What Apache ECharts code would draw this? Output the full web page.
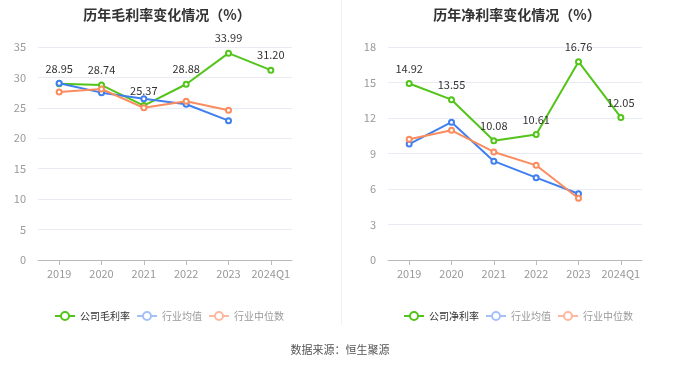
<!DOCTYPE html>
<html><head><meta charset="utf-8">
<script src="https://cdn.jsdelivr.net/npm/echarts@6/dist/echarts.min.js"></script>
<style>html,body{margin:0;padding:0;background:#fff}#c{width:680px;height:367px}</style>
</head><body><div id="c"></div>
<script>
const categories = ['2019','2020','2021','2022','2023','2024Q1'];
const grossCompany = [28.95, 28.74, 25.37, 28.88, 33.99, 31.20];
const grossAvg = [29.05, 27.5, 26.5, 25.6, 22.9, null];
const grossMedian = [27.6, 28.1, 25.0, 26.1, 24.6, null];
const netCompany = [14.92, 13.55, 10.08, 10.61, 16.76, 12.05];
const netAvg = [9.8, 11.65, 8.35, 6.96, 5.6, null];
const netMedian = [10.2, 10.96, 9.13, 8.0, 5.22, null];
const titles = ['历年毛利率变化情况（%）', '历年净利率变化情况（%）'];
const legendLeft = ['公司毛利率', '行业均值', '行业中位数'];
const legendRight = ['公司净利率', '行业均值', '行业中位数'];

const FONT = '"Noto Sans CJK SC", "Microsoft YaHei", sans-serif';
const GREEN = '#52c41a', BLUE = '#3f7ff0', ORANGE = '#fa8c5e';
const chart = echarts.init(document.getElementById('c'));

function mkSeries(name, data, color, xi, labeled, z) {
  return {
    type: 'line', name, data, xAxisIndex: xi, yAxisIndex: xi, z,
    symbol: 'emptyCircle', symbolSize: 5, connectNulls: false,
    lineStyle: { width: 2, color }, itemStyle: { color, borderWidth: 1.5 },
    label: labeled ? { show: true, position: 'top', color: '#333', fontSize: 11, fontFamily: FONT, distance: 6,
      formatter: p => p.value.toFixed(2) } : { show: false }
  };
}
function legendData(names) {
  return [
    { name: names[0], textStyle: { color: '#333' } },
    { name: names[1], textStyle: { color: '#999' }, itemStyle: { color: '#a3c1f7' }, lineStyle: { color: '#a3c1f7' } },
    { name: names[2], textStyle: { color: '#999' }, itemStyle: { color: '#fcb9a0' }, lineStyle: { color: '#fcb9a0' } }
  ];
}
const xAx = gi => ({
  type: 'category', gridIndex: gi, data: categories, boundaryGap: true,
  axisLine: { lineStyle: { color: '#bbb' } }, axisTick: { show: true, alignWithLabel: true, lineStyle: { color: '#bbb' } },
  axisLabel: { color: '#999', fontSize: 11, fontFamily: FONT, margin: 8, interval: 0 }
});
const yAx = (gi, max, interval) => ({
  type: 'value', gridIndex: gi, min: 0, max, interval,
  axisLine: { show: false }, axisTick: { show: false },
  axisLabel: { color: '#999', fontSize: 11, fontFamily: FONT, margin: 12 },
  splitLine: { lineStyle: { color: '#e8eaf4' } }
});
const legendCommon = { top: 306, itemWidth: 20, itemHeight: 10, itemGap: 6, selectedMode: false,
  textStyle: { fontSize: 10, fontFamily: FONT } };

chart.setOption({
  animation: false,
  textStyle: { fontFamily: FONT },
  title: [
    { text: titles[0], left: 162, top: 3, textAlign: 'center', textStyle: { fontSize: 14, fontWeight: 'bold', color: '#333', fontFamily: FONT } },
    { text: titles[1], left: 512, top: 3, textAlign: 'center', textStyle: { fontSize: 14, fontWeight: 'bold', color: '#333', fontFamily: FONT } }
  ],
  legend: [
    Object.assign({ data: legendData(legendLeft), left: 49 }, legendCommon),
    Object.assign({ data: legendData(legendRight), left: 398 }, legendCommon)
  ],
  grid: [
    { left: 38, width: 254, top: 47, bottom: 107 },
    { left: 388, width: 254, top: 47, bottom: 107 }
  ],
  xAxis: [xAx(0), xAx(1)],
  yAxis: [yAx(0, 35, 5), yAx(1, 18, 3)],
  series: [
    mkSeries(legendLeft[0], grossCompany, GREEN, 0, true, 3),
    mkSeries(legendLeft[1], grossAvg, BLUE, 0, false, 4),
    mkSeries(legendLeft[2], grossMedian, ORANGE, 0, false, 5),
    mkSeries(legendRight[0], netCompany, GREEN, 1, true, 3),
    mkSeries(legendRight[1], netAvg, BLUE, 1, false, 4),
    mkSeries(legendRight[2], netMedian, ORANGE, 1, false, 5)
  ],
  graphic: [
    { type: 'line', shape: { x1: 341.5, y1: 0, x2: 341.5, y2: 325 }, style: { stroke: '#f0f0f0', lineWidth: 1 } },
    { type: 'text', left: 'center', top: 344, style: { text: '数据来源：恒生聚源', fill: '#555', fontSize: 11, fontFamily: FONT } }
  ]
});
</script></body></html>
